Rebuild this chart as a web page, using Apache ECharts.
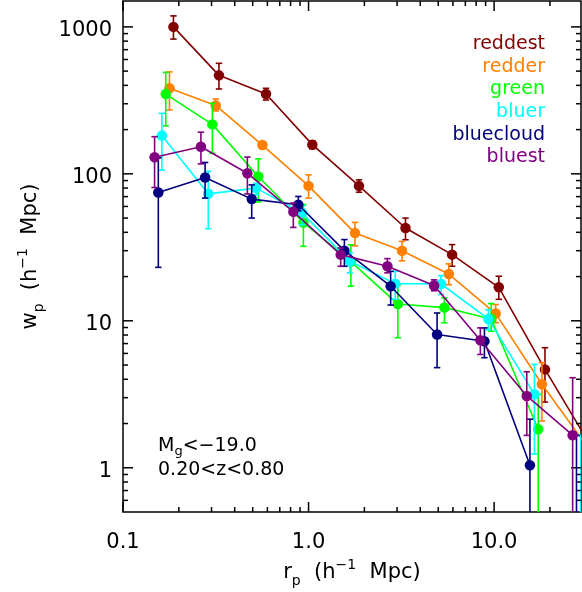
<!DOCTYPE html>
<html>
<head>
<meta charset="utf-8">
<script src="https://cdn.jsdelivr.net/npm/echarts@6/dist/echarts.min.js"></script>
<style>
  html, body { margin: 0; padding: 0; background: #fff; }
  #chart { width: 582px; height: 592px; }
</style>
</head>
<body>
<div id="chart"></div>
<script>
// Projected correlation function w_p(r_p) for six colour samples.
// For each sample: r_p bins, w_p values, and the lower / upper ends of the error bars.
// A lower end of 0 means the bar runs off the bottom of the log axis.

const reddestRp = [0.187, 0.329, 0.590, 1.048, 1.87, 3.33, 5.94, 10.6, 18.8, 33.5];
const reddestWp = [1000, 468, 349, 158, 82.8, 42.8, 28.2, 16.9, 4.67, 1.38];
const reddestLo = [826, 378, 318, 148, 75, 35.6, 23.5, 14.0, 2.80, null];
const reddestHi = [1188, 565, 382, 168, 91, 50, 33, 20.1, 6.56, null];

const redderRp = [0.178, 0.316, 0.564, 1.00, 1.78, 3.19, 5.70, 10.2, 18.1, 32.2];
const redderWp = [382, 292, 157, 82.8, 39.5, 30.0, 20.8, 11.2, 3.70, 1.36];
const redderLo = [272, 268, 149, 68.4, 32.4, 25.6, 17.6, 9.7, 2.08, null];
const redderHi = [494, 323, 165, 98.4, 46.7, 34.7, 24.4, 12.9, 5.19, null];

const greenRp = [0.170, 0.303, 0.536, 0.938, 1.69, 3.03, 5.40, 9.64, 17.3];
const greenWp = [349, 217, 96, 46.7, 25.3, 13.0, 12.3, 10.3, 1.83];
const greenLo = [212, 138, 64.3, 32.1, 17.2, 7.67, 9.7, 8.5, 0];
const greenHi = [490, 302, 126.5, 61.7, 32.9, 17.5, 14.3, 13.1, 3.16];

const bluerRp = [0.162, 0.288, 0.521, 0.922, 1.67, 2.93, 5.18, 9.31, 16.5, 29.3];
const bluerWp = [182, 73.1, 80, 54.3, 25.4, 17.9, 17.8, 10.3, 3.16, null];
const bluerLo = [106, 42.4, 72, 45, 21.2, 14.0, 15.1, 8.7, 1.24, 0];
const bluerHi = [258, 104, 86, 60.5, 29, 21.7, 20.3, 11.9, 5.05, 1.66];

const bluecloudRp = [0.155, 0.277, 0.494, 0.881, 1.56, 2.77, 4.93, 8.87, 15.6, 27.8];
const bluecloudWp = [74.6, 94.4, 67.3, 61.6, 30.0, 17.2, 8.07, 7.26, 1.04, null];
const bluecloudLo = [23.1, 68.4, 50, 56, 23.5, 12.8, 4.8, 5.61, 0, 0];
const bluecloudHi = [128.6, 119.5, 84.1, 70.2, 35.7, 21.7, 11.3, 8.95, 2.14, 1.66];

const bluestRp = [0.148, 0.263, 0.468, 0.828, 1.49, 2.66, 4.75, 8.43, 15.0, 26.5];
const bluestWp = [129.7, 153, 101, 55.2, 28.2, 23.5, 17.4, 7.38, 3.08, 1.665];
const bluestLo = [80.7, 117, 73, 43.2, 23.5, 21.2, 16.0, 5.9, 1.66, 0];
const bluestHi = [179, 192, 130, 63.3, 31.3, 26.5, 19.0, 8.95, 4.5, 4.1];

// Axis ticks and their labels
const xMajorTicks = [0.1, 1, 10];
const xTickLabels = ['0.1', '1.0', '10.0'];
const xMinorTicks = [0.2, 0.3, 0.4, 0.5, 0.6, 0.7, 0.8, 0.9, 2, 3, 4, 5, 6, 7, 8, 9, 20];
const yMajorTicks = [1, 10, 100, 1000];
const yTickLabels = ['1', '10', '100', '1000'];
const yMinorTicks = [0.6, 0.7, 0.8, 0.9, 2, 3, 4, 5, 6, 7, 8, 9,
  20, 30, 40, 50, 60, 70, 80, 90, 200, 300, 400, 500, 600, 700, 800, 900];

const FONT = 'DejaVu Sans';

const samples = [
  { name: 'reddest',   color: '#820000', rp: reddestRp,   wp: reddestWp,   lo: reddestLo,   hi: reddestHi },
  { name: 'redder',    color: '#ff8000', rp: redderRp,    wp: redderWp,    lo: redderLo,    hi: redderHi },
  { name: 'green',     color: '#00ff00', rp: greenRp,     wp: greenWp,     lo: greenLo,     hi: greenHi },
  { name: 'bluer',     color: '#00ffff', rp: bluerRp,     wp: bluerWp,     lo: bluerLo,     hi: bluerHi },
  { name: 'bluecloud', color: '#000080', rp: bluecloudRp, wp: bluecloudWp, lo: bluecloudLo, hi: bluecloudHi },
  { name: 'bluest',    color: '#800080', rp: bluestRp,    wp: bluestWp,    lo: bluestLo,    hi: bluestHi }
];

function labelFor(value, ticks, labels) {
  for (let i = 0; i < ticks.length; i++) {
    if (Math.abs(Math.log10(value) - Math.log10(ticks[i])) < 1e-6) return labels[i];
  }
  return '';
}

// Vertical error bar with small caps; a lower end of 0 runs to the bottom edge.
function errorBarItem(params, api) {
  const x = api.value(0), lo = api.value(1), hi = api.value(2);
  const cs = params.coordSys;
  const top = cs.y, bottom = cs.y + cs.height;
  const pHi = api.coord([x, hi]);
  const px = pHi[0];
  const yHi = Math.max(pHi[1], top);
  const yLo = lo > 0 ? Math.min(api.coord([x, lo])[1], bottom) : bottom;
  const stroke = api.visual('color');
  const st = { stroke: stroke, lineWidth: 1.6 };
  const children = [{ type: 'line', shape: { x1: px, y1: yHi, x2: px, y2: yLo }, style: st }];
  const cap = 3.2;
  if (pHi[1] >= top) children.push({ type: 'line', shape: { x1: px - cap, y1: yHi, x2: px + cap, y2: yHi }, style: st });
  if (lo > 0 && yLo < bottom) children.push({ type: 'line', shape: { x1: px - cap, y1: yLo, x2: px + cap, y2: yLo }, style: st });
  return { type: 'group', children: children };
}

// Ticks drawn inward on both opposite edges of the frame
function xTickItem(params, api) {
  const cs = params.coordSys;
  const px = api.coord([api.value(0), 1])[0];
  const len = api.value(2) ? 10 : 5;
  const b = cs.y + cs.height, t = cs.y;
  const st = { stroke: '#000', lineWidth: 1.5 };
  return { type: 'group', children: [
    { type: 'line', shape: { x1: px, y1: b, x2: px, y2: b - len }, style: st },
    { type: 'line', shape: { x1: px, y1: t, x2: px, y2: t + len }, style: st }
  ] };
}
function yTickItem(params, api) {
  const cs = params.coordSys;
  const py = api.coord([1, api.value(1)])[1];
  const len = api.value(2) ? 10 : 5;
  const l = cs.x, r = cs.x + cs.width;
  const st = { stroke: '#000', lineWidth: 1.5 };
  return { type: 'group', children: [
    { type: 'line', shape: { x1: l, y1: py, x2: l + len, y2: py }, style: st },
    { type: 'line', shape: { x1: r, y1: py, x2: r - len, y2: py }, style: st }
  ] };
}

const series = [];
series.push({
  type: 'custom', name: 'xticks', renderItem: xTickItem, silent: true, z: 10,
  encode: { x: 0, y: 1 },
  data: xMajorTicks.map(v => [v, 1, 1]).concat(xMinorTicks.map(v => [v, 1, 0]))
});
series.push({
  type: 'custom', name: 'yticks', renderItem: yTickItem, silent: true, z: 10,
  encode: { x: 0, y: 1 },
  data: yMajorTicks.map(v => [1, v, 1]).concat(yMinorTicks.map(v => [1, v, 0]))
});

samples.forEach((s, k) => {
  const bars = [];
  s.rp.forEach((x, i) => {
    if (s.hi[i] != null) bars.push([x, s.lo[i], s.hi[i]]);
  });
  series.push({
    type: 'custom', name: s.name + ' errors', renderItem: errorBarItem,
    itemStyle: { color: s.color }, clip: true, silent: true, z: 2 + k * 2,
    encode: { x: 0, y: 2 },
    data: bars
  });
  series.push({
    type: 'line', name: s.name, clip: true, z: 3 + k * 2,
    symbol: 'circle', symbolSize: 10.5, showSymbol: true, connectNulls: false,
    itemStyle: { color: s.color },
    lineStyle: { color: s.color, width: 1.6 },
    data: s.rp.map((x, i) => [x, s.wp[i]])
  });
});

const nameRich = {
  t: { fontFamily: FONT, fontSize: 21, color: '#000', lineHeight: 30 },
  s: { fontFamily: FONT, fontSize: 14, color: '#000', lineHeight: 20, verticalAlign: 'bottom' },
  u: { fontFamily: FONT, fontSize: 14, color: '#000', lineHeight: 10, verticalAlign: 'top' }
};

const legendGraphics = samples.map((s, i) => ({
  type: 'text', right: 37, top: 34.5 + i * 22.7, z: 50,
  style: { text: s.name, fill: s.color, font: '19px "' + FONT + '"' }
}));

const noteRich = {
  a: { fontFamily: FONT, fontSize: 19, color: '#000', lineHeight: 24 },
  g: { fontFamily: FONT, fontSize: 13, color: '#000', lineHeight: 14, verticalAlign: 'bottom' }
};

const chart = echarts.init(document.getElementById('chart'), null, { renderer: 'canvas' });
chart.setOption({
  animation: false,
  backgroundColor: '#fff',
  grid: {
    left: 123, top: 1, width: 458, height: 511,
    show: true, borderColor: '#000', borderWidth: 1.5, backgroundColor: 'transparent',
    containLabel: false, outerBoundsMode: 'none'
  },
  xAxis: {
    type: 'log', logBase: 10, min: 0.1, max: 29.4,
    axisLine: { show: false }, axisTick: { show: false }, splitLine: { show: false },
    minorTick: { show: false },
    axisLabel: {
      fontFamily: FONT, fontSize: 21, color: '#000', margin: 20,
      showMinLabel: true, showMaxLabel: false, hideOverlap: false,
      formatter: v => labelFor(v, xMajorTicks, xTickLabels)
    },
    name: '{t|r}{s|p}{t|  (h}{u|−1}{t|  Mpc)}',
    nameLocation: 'middle', nameGap: 46,
    nameTextStyle: { rich: nameRich }
  },
  yAxis: {
    type: 'log', logBase: 10, min: 0.5, max: 1500,
    axisLine: { show: false }, axisTick: { show: false }, splitLine: { show: false },
    minorTick: { show: false },
    axisLabel: {
      fontFamily: FONT, fontSize: 21, color: '#000', margin: 11,
      verticalAlign: 'top', lineHeight: 8,
      showMinLabel: false, showMaxLabel: false, hideOverlap: false,
      formatter: v => labelFor(v, yMajorTicks, yTickLabels)
    },
    name: '{t|w}{s|p}{t|  (h}{u|−1}{t|  Mpc)}',
    nameLocation: 'middle', nameGap: 77,
    nameTextStyle: { rich: nameRich }
  },
  graphic: legendGraphics.concat([
    { type: 'text', left: 158, top: 437, z: 50,
      style: { text: '{a|M}{g|g}{a|<−19.0}', rich: noteRich } },
    { type: 'text', left: 158, top: 461, z: 50,
      style: { text: '{a|0.20<z<0.80}', rich: noteRich } }
  ]),
  series: series
});
</script>
</body>
</html>
